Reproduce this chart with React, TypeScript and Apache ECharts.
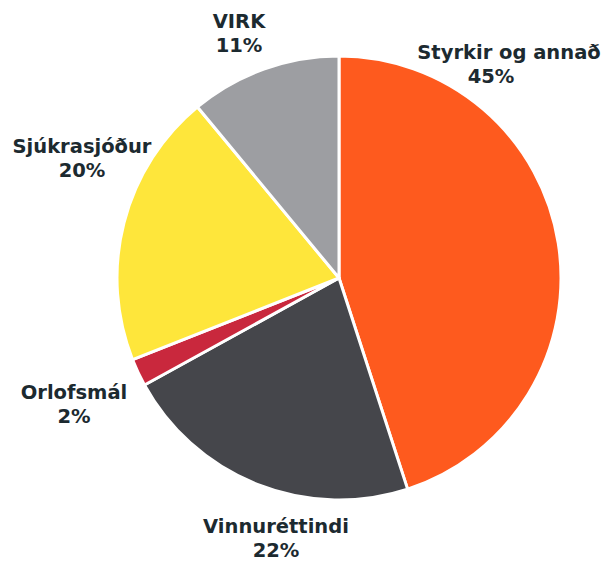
import React, { useEffect, useRef } from "react";
import * as echarts from "echarts";

const categories = ["Styrkir og annað", "Vinnuréttindi", "Orlofsmál", "Sjúkrasjóður", "VIRK"];
const values = [45, 22, 2, 20, 11];
const colors = ["#fe5a1e", "#45464b", "#c9283d", "#fee63b", "#9d9ea2"];
const labelCenters: [number, number][] = [
  [509, 64],
  [276, 538],
  [74, 404],
  [82, 158],
  [239, 33],
];

const txt = { fontFamily: "DejaVu Sans", fontWeight: "bold", fontSize: 19.5, color: "#1c2a30", lineHeight: 24, align: "center" };

export default function App() {
  const ref = useRef<HTMLDivElement>(null);
  useEffect(() => {
    document.body.style.margin = "0";
    const chart = echarts.init(ref.current!, null, { renderer: "svg" });
    chart.setOption({
      animation: false,
      backgroundColor: "#ffffff",
      series: [
        {
          type: "pie",
          center: [339, 278],
          radius: 222,
          startAngle: 90,
          clockwise: true,
          avoidLabelOverlap: false,
          itemStyle: { borderColor: "#ffffff", borderWidth: 3 },
          label: {
            show: true,
            position: "outside",
            formatter: (p: any) =>
              p.dataIndex === 0 ? `{a|${p.name}}\n{c|${p.value}%}` : `{a|${p.name}}\n{b|${p.value}%}`,
            rich: {
              a: { ...txt },
              b: { ...txt },
              c: { ...txt, padding: [0, 36, 0, 0] },
            },
          },
          labelLine: { show: false },
          labelLayout: (params: any) => ({
            x: labelCenters[params.dataIndex][0],
            y: labelCenters[params.dataIndex][1],
            align: "center",
            verticalAlign: "middle",
          }),
          data: categories.map((name, i) => ({
            name,
            value: values[i],
            itemStyle: { color: colors[i] },
          })),
        },
      ],
    });
    return () => chart.dispose();
  }, []);
  return <div ref={ref} style={{ width: 613, height: 563 }} />;
}
